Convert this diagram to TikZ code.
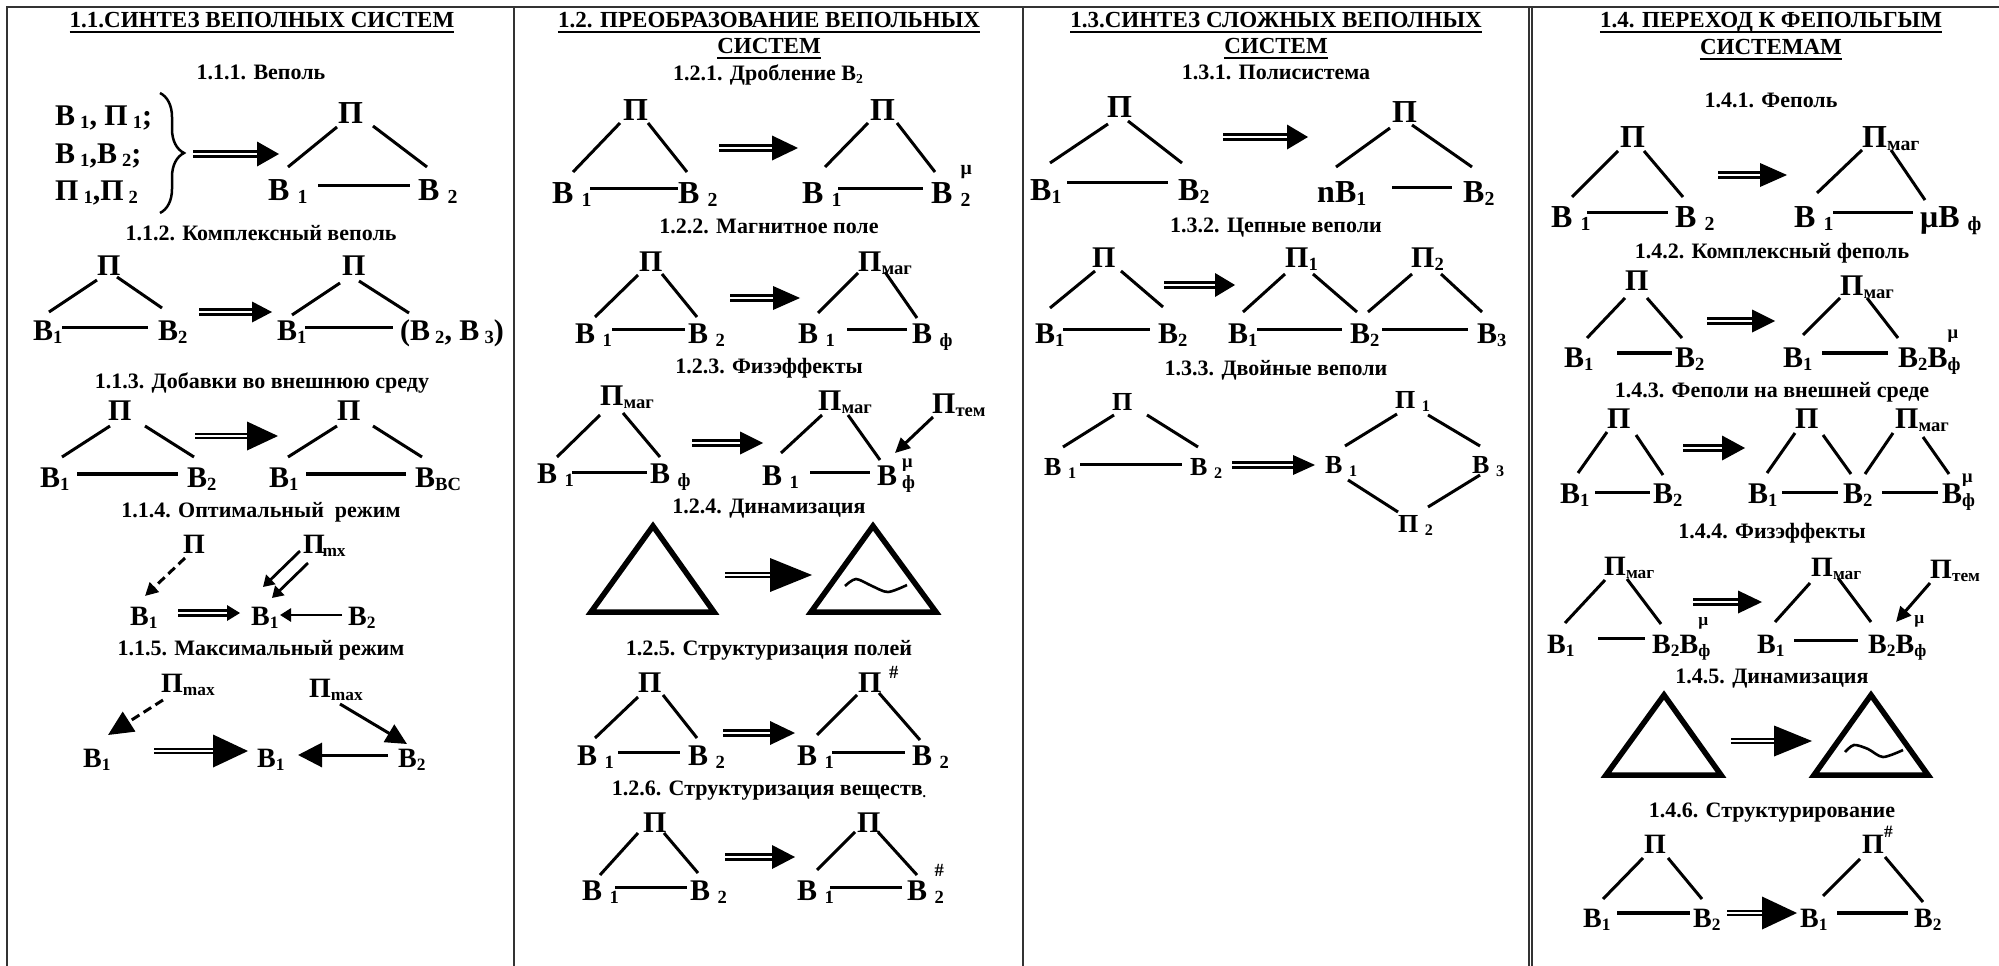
\documentclass[tikz,border=0pt]{standalone}
\usepackage{fontspec}
\setmainfont{Liberation Serif}
\usetikzlibrary{arrows.meta,decorations.pathreplacing}

% sub- and superscripts of the labels
\newcommand\lo[1]{\raisebox{-0.12em}{\scalebox{0.62}{#1}}}
\newcommand\hi[2][0.5em]{\raisebox{#1}{\scalebox{0.62}{#2}}}
% connection point: a label's base-west point, shifted
\newcommand\ancp[3]{([shift={(#2,#3)}]#1.base west)}
% transition arrow: [shaft style]{name}{x start}{x tip}{y}{head length}{head half width}
\newcommand\impl[7][boldshaft]{%
  \coordinate (#2-s) at (#3,#5);
  \coordinate (#2-e) at (#4,#5);
  \draw[#1] (#2-s) -- ([shift={(-#6+1,0)}]#2-e);
  \fill ([shift={(-#6,-#7)}]#2-e) -- (#2-e) -- ([shift={(-#6,#7)}]#2-e) -- cycle;
}

\begin{document}
\begin{tikzpicture}[x=1pt, y=-1pt,
  ttl/.style={font=\fontsize{23}{23}\selectfont\bfseries, inner sep=0pt, anchor=base},
  sttl/.style={font=\fontsize{22}{22}\selectfont\bfseries, inner sep=0pt, anchor=base},
  lbA/.style={font=\fontsize{32}{32}\selectfont\bfseries, inner sep=0pt, anchor=base west},
  lbB/.style={font=\fontsize{30}{30}\selectfont\bfseries, inner sep=0pt, anchor=base west},
  lbC/.style={font=\fontsize{28}{28}\selectfont\bfseries, inner sep=0pt, anchor=base west},
  lbD/.style={font=\fontsize{26}{26}\selectfont\bfseries, inner sep=0pt, anchor=base west},
  conn/.style={line width=3pt},
  tconn/.style={line width=4.2pt},
  uline/.style={line width=2.5pt},
  gridline/.style={line width=2pt, black!80},
  boldshaft/.style={double, double distance=2pt, line width=3pt},
  thinshaft/.style={double, double distance=2.5pt, line width=1.5pt},
  bigtri/.style={line width=5.5pt, line join=miter},
  wave/.style={line width=2.6pt},
  sarrow/.style={line width=2.8pt, -{Triangle[length=11pt,width=13pt]}},
  sarrowm/.style={line width=3pt, -{Triangle[length=15pt,width=14pt]}},
  dasharrow/.style={line width=3pt, dash pattern=on 9pt off 5pt}
]
\useasboundingbox (0,0) rectangle (1999,966);

% ---------- table frame ----------
\draw[gridline] (7,966) -- (7,7) -- (1999,7);
\draw[gridline] (514,7) -- (514,966);
\draw[gridline] (1022.5,7) -- (1022.5,966);
\draw[gridline] (1528.5,7) -- (1528.5,966);
\draw[gridline] (1532,7) -- (1532,966);

% ================= 1.1 =================
\node[ttl] (t1) at (262,28) {1.1.СИНТЕЗ ВЕПОЛНЫХ СИСТЕМ};
\draw[uline] ([shift={(0,4)}]t1.base west) -- ([shift={(0,4)}]t1.base east);

% 1.1.1
\node[sttl] (s111) at (261,80) {1.1.1. Веполь};
\node[lbB] (g1) at (55,125) {В\,\lo{1}, П\,\lo{1};};
\node[lbB] (g2) at (55,163) {В\,\lo{1},В\,\lo{2};};
\node[lbB] (g3) at (55,200) {П\,\lo{1},П\,\lo{2}};
\draw[line width=2.5pt, decorate, decoration={brace, amplitude=24pt}] (160,93) -- (160,213);
\impl{r111}{193}{279}{154}{22}{12.5}
\node[lbA] (aP) at (338,123) {П};
\node[lbA] (aB1) at (268,200) {В \lo{1}};
\node[lbA] (aB2) at (418,200) {В \lo{2}};
\draw[conn] \ancp{aB1}{20}{-33} -- \ancp{aP}{-1}{4};
\draw[conn] \ancp{aP}{35}{3} -- \ancp{aB2}{9}{-33};
\draw[conn] \ancp{aB1}{50}{-15} -- \ancp{aB2}{-8}{-15};

% 1.1.2
\node[sttl] (s112) at (261,240) {1.1.2. Комплексный веполь};
\node[lbB] (bP) at (97,275) {П};
\node[lbB] (bB1) at (33,340) {В\lo{1}};
\node[lbB] (bB2) at (158,340) {В\lo{2}};
\draw[conn] \ancp{bB1}{16}{-28} -- \ancp{bP}{0}{5};
\draw[conn] \ancp{bP}{20}{2} -- \ancp{bB2}{4}{-32};
\draw[conn] \ancp{bB1}{29}{-13} -- \ancp{bB2}{-10}{-13};
\impl{r112}{199}{272}{312}{20}{10.5}
\node[lbB] (cP) at (342,275) {П};
\node[lbB] (cB1) at (277,340) {В\lo{1}};
\node[lbB] (cB2) at (400,340) {(В\,\lo{2}, В\,\lo{3})};
\draw[conn] \ancp{cB1}{15}{-25} -- \ancp{cP}{-2}{8};
\draw[conn] \ancp{cP}{17}{6} -- \ancp{cB2}{9}{-27};
\draw[conn] \ancp{cB1}{28}{-13} -- \ancp{cB2}{-7}{-13};

% 1.1.3
\node[sttl] (s113) at (262,388) {1.1.3. Добавки во внешнюю среду};
\node[lbB] (dP) at (108,420) {П};
\node[lbB] (dB1) at (40,487) {В\lo{1}};
\node[lbB] (dB2) at (187,487) {В\lo{2}};
\draw[conn] \ancp{dB1}{22}{-30} -- \ancp{dP}{2}{6};
\draw[conn] \ancp{dP}{37}{6} -- \ancp{dB2}{7}{-30};
\draw[tconn] \ancp{dB1}{37}{-13} -- \ancp{dB2}{-9}{-13};
\impl[thinshaft]{r113}{195}{278}{436}{31}{14.5}
\node[lbB] (eP) at (337,420) {П};
\node[lbB] (eB1) at (269,487) {В\lo{1}};
\node[lbB] (eB2) at (415,487) {В\lo{ВС}};
\draw[conn] \ancp{eB1}{19}{-30} -- \ancp{eP}{0}{6};
\draw[conn] \ancp{eP}{36}{6} -- \ancp{eB2}{7}{-30};
\draw[tconn] \ancp{eB1}{37}{-13} -- \ancp{eB2}{-9}{-13};

% 1.1.4
\node[sttl] (s114) at (261,517) {1.1.4. Оптимальный\ \ режим};
\node[lbC] (fP) at (183,553) {П};
\node[lbC] (fB1) at (130,625) {В\lo{1}};
\node[lbC] (fB1b) at (251,625) {В\lo{1}};
\node[lbC] (fB2) at (348,625) {В\lo{2}};
\node[lbC] (fPm) at (303,553) {П\lo{\kern-4pt mx}};
\draw[dasharrow, -{Triangle[length=13pt,width=13pt]}] \ancp{fP}{2}{5} -- \ancp{fB1}{15}{-29};
\impl{r114}{178}{240}{613}{13}{8}
\draw[sarrow] \ancp{fB2}{-6}{-10} -- \ancp{fB1b}{29}{-10};
\draw[sarrow] \ancp{fPm}{-3}{-2} -- \ancp{fB1b}{12}{-38};
\draw[sarrow] \ancp{fPm}{5}{10} -- \ancp{fB1b}{21}{-27};

% 1.1.5
\node[sttl] (s115) at (261,655) {1.1.5. Максимальный режим};
\node[lbC] (gP1) at (161,692) {П\lo{max}};
\node[lbC] (gP2) at (309,697) {П\lo{max}};
\node[lbC] (gB1) at (83,767) {В\lo{1}};
\node[lbC] (gB1b) at (257,767) {В\lo{1}};
\node[lbC] (gB2) at (398,767) {В\lo{2}};
\draw[dasharrow, -{Triangle[length=25pt,width=23pt]}] \ancp{gP1}{2}{8} -- \ancp{gB1}{25}{-32};
\impl[thinshaft]{r115}{154}{248}{751}{35}{16.5}
\draw[conn, -{Triangle[length=24pt,width=24pt]}] \ancp{gB2}{-10}{-12} -- \ancp{gB1b}{41}{-12};
\draw[conn, -{Triangle[length=21pt,width=20pt]}] \ancp{gP2}{31}{7} -- \ancp{gB2}{9}{-23};

% ================= 1.2 =================
\node[ttl] (t2a) at (769,28) {1.2. ПРЕОБРАЗОВАНИЕ ВЕПОЛЬНЫХ};
\node[ttl] (t2b) at (769,54) {СИСТЕМ};
\draw[uline] ([shift={(0,4)}]t2a.base west) -- ([shift={(0,4)}]t2a.base east);
\draw[uline] ([shift={(0,4)}]t2b.base west) -- ([shift={(0,4)}]t2b.base east);

% 1.2.1
\node[sttl] (s121) at (768,81) {1.2.1. Дробление В\lo{2}};
\node[lbA] (hP) at (623,120) {П};
\node[lbA] (hB1) at (552,203) {В \lo{1}};
\node[lbA] (hB2) at (678,203) {В \lo{2}};
\draw[conn] \ancp{hB1}{21}{-31} -- \ancp{hP}{-3}{3};
\draw[conn] \ancp{hP}{25}{3} -- \ancp{hB2}{9}{-31};
\draw[conn] \ancp{hB1}{38}{-15} -- \ancp{hB2}{0}{-15};
\impl{r121}{719}{798}{148}{26}{12.5}
\node[lbA] (iP) at (870,120) {П};
\node[lbA] (iB1) at (802,203) {В \lo{1}};
\node[lbA] (iB2) at (931,203) {В \rlap{\hi[0.9em]{μ}}\lo{2}};
\draw[conn] \ancp{iB1}{23}{-36} -- \ancp{iP}{-2}{3};
\draw[conn] \ancp{iP}{27}{3} -- \ancp{iB2}{4}{-31};
\draw[conn] \ancp{iB1}{36}{-15} -- \ancp{iB2}{-8}{-15};

% 1.2.2
\node[sttl] (s122) at (769,233) {1.2.2. Магнитное поле};
\node[lbB] (jP) at (639,271) {П};
\node[lbB] (jB1) at (575,343) {В \lo{1}};
\node[lbB] (jB2) at (688,343) {В \lo{2}};
\draw[conn] \ancp{jB1}{20}{-26} -- \ancp{jP}{-1}{4};
\draw[conn] \ancp{jP}{23}{3} -- \ancp{jB2}{9}{-26};
\draw[conn] \ancp{jB1}{37}{-14} -- \ancp{jB2}{-3}{-14};
\impl{r122}{730}{800}{298}{27}{12}
\node[lbB] (kP) at (858,271) {П\lo{маг}};
\node[lbB] (kB1) at (798,343) {В \lo{1}};
\node[lbB] (kB2) at (912,343) {В \lo{ф}};
\draw[conn] \ancp{kB1}{20}{-30} -- \ancp{kP}{0}{2};
\draw[conn] \ancp{kP}{27}{1} -- \ancp{kB2}{5}{-25};
\draw[conn] \ancp{kB1}{49}{-14} -- \ancp{kB2}{-5}{-14};

% 1.2.3
\node[sttl] (s123) at (769,373) {1.2.3. Физэффекты};
\node[lbB] (lP) at (600,405) {П\lo{маг}};
\node[lbB] (lB1) at (537,483) {В \lo{1}};
\node[lbB] (lB2) at (650,483) {В \lo{ф}};
\draw[conn] \ancp{lB1}{20}{-26} -- \ancp{lP}{0}{10};
\draw[conn] \ancp{lP}{23}{8} -- \ancp{lB2}{10}{-26};
\draw[conn] \ancp{lB1}{35}{-11} -- \ancp{lB2}{-3}{-11};
\impl{r123}{692}{763}{443}{23}{11.5}
\node[lbB] (mP) at (818,410) {П\lo{маг}};
\node[lbB] (mB1) at (762,485) {В \lo{1}};
\node[lbB] (mB2) at (877,485) {В\,\rlap{\hi[0.6em]{μ}}\lo{ф}};
\node[lbB] (mPt) at (932,413) {П\lo{тем}};
\draw[conn] \ancp{mB1}{19}{-32} -- \ancp{mP}{4}{5};
\draw[conn] \ancp{mP}{30}{5} -- \ancp{mB2}{3}{-25};
\draw[conn] \ancp{mB1}{48}{-13} -- \ancp{mB2}{-7}{-13};
\draw[sarrowm] \ancp{mPt}{1}{4} -- \ancp{mB2}{18}{-32};

% 1.2.4
\node[sttl] (s124) at (769,513) {1.2.4. Динамизация};
\draw[bigtri] (653,526) -- (714,612) -- (591,612) -- cycle;
\impl[thinshaft]{r124}{725}{812}{575}{42}{17}
\draw[bigtri] (873,526) -- (936,612) -- (811,612) -- cycle;
\draw[wave] plot[smooth] coordinates {(845,586) (856,579) (872,586) (888,592) (907,585)};

% 1.2.5
\node[sttl] (s125) at (769,655) {1.2.5. Структуризация полей};
\node[lbB] (nP) at (638,692) {П};
\node[lbB] (nB1) at (577,765) {В \lo{1}};
\node[lbB] (nB2) at (688,765) {В \lo{2}};
\draw[conn] \ancp{nB1}{18}{-27} -- \ancp{nP}{0}{5};
\draw[conn] \ancp{nP}{25}{3} -- \ancp{nB2}{9}{-27};
\draw[conn] \ancp{nB1}{41}{-13} -- \ancp{nB2}{-8}{-13};
\impl{r125}{723}{795}{733}{25}{12}
\node[lbB] (oP) at (858,692) {П \hi[0.45em]{\#}};
\node[lbB] (oB1) at (797,765) {В \lo{1}};
\node[lbB] (oB2) at (912,765) {В \lo{2}};
\draw[conn] \ancp{oB1}{20}{-30} -- \ancp{oP}{-1}{3};
\draw[conn] \ancp{oP}{21}{1} -- \ancp{oB2}{8}{-25};
\draw[conn] \ancp{oB1}{35}{-13} -- \ancp{oB2}{-7}{-13};

% 1.2.6
\node[sttl] (s126) at (769,795) {1.2.6. Структуризация веществ\lo{.}};
\node[lbB] (qP) at (643,832) {П};
\node[lbB] (qB1) at (582,900) {В \lo{1}};
\node[lbB] (qB2) at (690,900) {В \lo{2}};
\draw[conn] \ancp{qB1}{18}{-25} -- \ancp{qP}{-5}{1};
\draw[conn] \ancp{qP}{21}{1} -- \ancp{qB2}{8}{-27};
\draw[conn] \ancp{qB1}{33}{-13} -- \ancp{qB2}{-3}{-13};
\impl{r126}{725}{795}{857}{23}{12}
\node[lbB] (uP) at (857,832) {П};
\node[lbB] (uB1) at (797,900) {В \lo{1}};
\node[lbB] (uB2) at (907,900) {В \rlap{\hi[0.8em]{\#}}\lo{2}};
\draw[conn] \ancp{uB1}{20}{-30} -- \ancp{uP}{-2}{0};
\draw[conn] \ancp{uP}{21}{0} -- \ancp{uB2}{10}{-25};
\draw[conn] \ancp{uB1}{33}{-13} -- \ancp{uB2}{-5}{-13};

% ================= 1.3 =================
\node[ttl] (t3a) at (1276,28) {1.3.СИНТЕЗ СЛОЖНЫХ ВЕПОЛНЫХ};
\node[ttl] (t3b) at (1276,54) {СИСТЕМ};
\draw[uline] ([shift={(0,4)}]t3a.base west) -- ([shift={(0,4)}]t3a.base east);
\draw[uline] ([shift={(0,4)}]t3b.base west) -- ([shift={(0,4)}]t3b.base east);

% 1.3.1
\node[sttl] (s131) at (1276,80) {1.3.1. Полисистема};
\node[lbA] (vP) at (1107,117) {П};
\node[lbA] (vB1) at (1030,200) {В\lo{1}};
\node[lbA] (vB2) at (1178,200) {В\lo{2}};
\draw[conn] \ancp{vB1}{20}{-37} -- \ancp{vP}{1}{7};
\draw[conn] \ancp{vP}{21}{4} -- \ancp{vB2}{4}{-37};
\draw[conn] \ancp{vB1}{37}{-18} -- \ancp{vB2}{-10}{-18};
\impl{r131}{1223}{1308}{137}{21}{12.5}
\node[lbA] (wP) at (1392,122) {П};
\node[lbA] (wB1) at (1317,202) {nВ\lo{1}};
\node[lbA] (wB2) at (1463,202) {В\lo{2}};
\draw[conn] \ancp{wB1}{19}{-35} -- \ancp{wP}{-2}{6};
\draw[conn] \ancp{wP}{20}{3} -- \ancp{wB2}{9}{-35};
\draw[conn] \ancp{wB1}{75}{-15} -- \ancp{wB2}{-11}{-15};

% 1.3.2
\node[sttl] (s132) at (1276,232) {1.3.2. Цепные веполи};
\node[lbB] (xP) at (1092,267) {П};
\node[lbB] (xB1) at (1035,343) {В\lo{1}};
\node[lbB] (xB2) at (1158,343) {В\lo{2}};
\draw[conn] \ancp{xB1}{15}{-35} -- \ancp{xP}{3}{4};
\draw[conn] \ancp{xP}{29}{4} -- \ancp{xB2}{5}{-36};
\draw[conn] \ancp{xB1}{28}{-14} -- \ancp{xB2}{-8}{-14};
\impl{r132}{1164}{1235}{285}{20}{12}
\node[lbB] (yP1) at (1285,267) {П\lo{1}};
\node[lbB] (yP2) at (1411,267) {П\lo{2}};
\node[lbB] (yB1) at (1228,343) {В\lo{1}};
\node[lbB] (yB2) at (1350,343) {В\lo{2}};
\node[lbB] (yB3) at (1477,343) {В\lo{3}};
\draw[conn] \ancp{yB1}{15}{-31} -- \ancp{yP1}{0}{7};
\draw[conn] \ancp{yP1}{28}{7} -- \ancp{yB2}{7}{-31};
\draw[conn] \ancp{yB2}{18}{-31} -- \ancp{yP2}{1}{7};
\draw[conn] \ancp{yP2}{30}{7} -- \ancp{yB3}{5}{-31};
\draw[conn] \ancp{yB1}{29}{-14} -- \ancp{yB2}{-8}{-14};
\draw[conn] \ancp{yB2}{32}{-14} -- \ancp{yB3}{-9}{-14};

% 1.3.3
\node[sttl] (s133) at (1276,375) {1.3.3. Двойные веполи};
\node[lbD] (zP) at (1112,410) {П};
\node[lbD] (zB1) at (1044,475) {В \lo{1}};
\node[lbD] (zB2) at (1190,475) {В \lo{2}};
\draw[conn] \ancp{zB1}{19}{-28} -- \ancp{zP}{2}{5};
\draw[conn] \ancp{zP}{35}{5} -- \ancp{zB2}{8}{-28};
\draw[conn] \ancp{zB1}{36}{-11} -- \ancp{zB2}{-8}{-11};
\impl{r133}{1232}{1315}{465}{22}{10}
\node[lbD] (ddP1) at (1395,408) {П \lo{1}};
\node[lbD] (ddB1) at (1325,473) {В \lo{1}};
\node[lbD] (ddB3) at (1472,473) {В \lo{3}};
\node[lbD] (ddP2) at (1398,532) {П \lo{2}};
\draw[conn] \ancp{ddB1}{20}{-27} -- \ancp{ddP1}{2}{6};
\draw[conn] \ancp{ddP1}{33}{7} -- \ancp{ddB3}{8}{-27};
\draw[conn] \ancp{ddB1}{23}{7} -- \ancp{ddP2}{0}{-20};
\draw[conn] \ancp{ddP2}{30}{-25} -- \ancp{ddB3}{8}{2};

% ================= 1.4 =================
\node[ttl] (t4a) at (1771,28) {1.4. ПЕРЕХОД К ФЕПОЛЬГЫМ};
\node[ttl] (t4b) at (1771,55) {СИСТЕМАМ};
\draw[uline] ([shift={(0,4)}]t4a.base west) -- ([shift={(0,4)}]t4a.base east);
\draw[uline] ([shift={(0,4)}]t4b.base west) -- ([shift={(0,4)}]t4b.base east);

% 1.4.1
\node[sttl] (s141) at (1771,107) {1.4.1. Феполь};
\node[lbA] (aaP) at (1620,147) {П};
\node[lbA] (aaB1) at (1551,227) {В \lo{1}};
\node[lbA] (aaB2) at (1675,227) {В \lo{2}};
\draw[conn] \ancp{aaB1}{21}{-30} -- \ancp{aaP}{-2}{4};
\draw[conn] \ancp{aaP}{24}{4} -- \ancp{aaB2}{8}{-30};
\draw[conn] \ancp{aaB1}{36}{-15} -- \ancp{aaB2}{-7}{-15};
\impl{r141}{1718}{1787}{175}{27}{12}
\node[lbA] (bbP) at (1862,147) {П\lo{маг}};
\node[lbA] (bbB1) at (1794,227) {В \lo{1}};
\node[lbA] (bbB2) at (1920,227) {μВ \lo{ф}};
\draw[conn] \ancp{bbB1}{23}{-34} -- \ancp{bbP}{0}{3};
\draw[conn] \ancp{bbP}{29}{3} -- \ancp{bbB2}{5}{-27};
\draw[conn] \ancp{bbB1}{39}{-15} -- \ancp{bbB2}{-7}{-15};

% 1.4.2
\node[sttl] (s142) at (1772,258) {1.4.2. Комплексный феполь};
\node[lbB] (ccP) at (1625,290) {П};
\node[lbB] (ccB1) at (1564,367) {В\lo{1}};
\node[lbB] (ccB2) at (1675,367) {В\lo{2}};
\draw[conn] \ancp{ccB1}{23}{-29} -- \ancp{ccP}{0}{8};
\draw[conn] \ancp{ccP}{22}{8} -- \ancp{ccB2}{7}{-29};
\draw[tconn] \ancp{ccB1}{53}{-14} -- \ancp{ccB2}{-3}{-14};
\impl{r142}{1707}{1775}{321}{23}{11.5}
\node[lbB] (eeP) at (1840,295) {П\lo{маг}};
\node[lbB] (eeB1) at (1783,367) {В\lo{1}};
\node[lbB] (eeB2) at (1898,367) {В\lo{2}В\rlap{\hi[0.95em]{μ}}\lo{ф}};
\draw[conn] \ancp{eeB1}{20}{-32} -- \ancp{eeP}{0}{3};
\draw[conn] \ancp{eeP}{27}{3} -- \ancp{eeB2}{0}{-29};
\draw[tconn] \ancp{eeB1}{39}{-14} -- \ancp{eeB2}{-10}{-14};

% 1.4.3
\node[sttl] (s143) at (1772,397) {1.4.3. Феполи на внешней среде};
\node[lbB] (ffP) at (1607,428) {П};
\node[lbB] (ffB1) at (1560,503) {В\lo{1}};
\node[lbB] (ffB2) at (1653,503) {В\lo{2}};
\draw[conn] \ancp{ffB1}{18}{-30} -- \ancp{ffP}{0}{4};
\draw[conn] \ancp{ffP}{29}{7} -- \ancp{ffB2}{10}{-28};
\draw[conn] \ancp{ffB1}{35}{-11} -- \ancp{ffB2}{-3}{-11};
\impl{r143}{1683}{1745}{448}{23}{12.5}
\node[lbB] (ggP1) at (1795,428) {П};
\node[lbB] (ggP2) at (1895,428) {П\lo{маг}};
\node[lbB] (ggB1) at (1748,503) {В\lo{1}};
\node[lbB] (ggB2) at (1843,503) {В\lo{2}};
\node[lbB] (ggB3) at (1942,503) {В\rlap{\hi[0.67em]{μ}}\lo{ф}};
\draw[conn] \ancp{ggB1}{19}{-30} -- \ancp{ggP1}{0}{5};
\draw[conn] \ancp{ggP1}{28}{7} -- \ancp{ggB2}{8}{-29};
\draw[conn] \ancp{ggB2}{22}{-29} -- \ancp{ggP2}{-2}{5};
\draw[conn] \ancp{ggP2}{28}{9} -- \ancp{ggB3}{7}{-29};
\draw[conn] \ancp{ggB1}{34}{-11} -- \ancp{ggB2}{-5}{-11};
\draw[conn] \ancp{ggB2}{39}{-11} -- \ancp{ggB3}{-4}{-11};

% 1.4.4
\node[sttl] (s144) at (1772,538) {1.4.4. Физэффекты};
\node[lbC] (hhP) at (1604,575) {П\lo{маг}};
\node[lbC] (hhB1) at (1547,653) {В\lo{1}};
\node[lbC] (hhB2) at (1652,653) {В\lo{2}В\rlap{\hi[1.0em]{μ}}\lo{ф}};
\draw[conn] \ancp{hhB1}{18}{-30} -- \ancp{hhP}{1}{5};
\draw[conn] \ancp{hhP}{23}{4} -- \ancp{hhB2}{9}{-29};
\draw[conn] \ancp{hhB1}{51}{-15} -- \ancp{hhB2}{-7}{-15};
\impl{r144}{1693}{1762}{602}{24}{11.5}
\node[lbC] (iiP) at (1811,576) {П\lo{маг}};
\node[lbC] (iiB1) at (1757,653) {В\lo{1}};
\node[lbC] (iiB2) at (1868,653) {В\lo{2}В\rlap{\hi[1.05em]{μ}}\lo{ф}};
\node[lbC] (iiPt) at (1930,578) {П\lo{тем}};
\draw[conn] \ancp{iiB1}{18}{-31} -- \ancp{iiP}{-1}{7};
\draw[conn] \ancp{iiP}{27}{2} -- \ancp{iiB2}{3}{-31};
\draw[conn] \ancp{iiB1}{37}{-13} -- \ancp{iiB2}{-10}{-13};
\draw[sarrowm] \ancp{iiPt}{0}{5} -- \ancp{iiB2}{28}{-31};

% 1.4.5
\node[sttl] (s145) at (1772,683) {1.4.5. Динамизация};
\draw[bigtri] (1664,695) -- (1721,775) -- (1606,775) -- cycle;
\impl[thinshaft]{r145}{1731}{1812}{741}{38}{15.5}
\draw[bigtri] (1871,695) -- (1928,775) -- (1814,775) -- cycle;
\draw[wave] plot[smooth] coordinates {(1845,752) (1854,745) (1868,749) (1883,757) (1903,750)};

% 1.4.6
\node[sttl] (s146) at (1772,817) {1.4.6. Структурирование};
\node[lbC] (jjP) at (1644,853) {П};
\node[lbC] (jjB1) at (1583,927) {В\lo{1}};
\node[lbC] (jjB2) at (1693,927) {В\lo{2}};
\draw[conn] \ancp{jjB1}{20}{-28} -- \ancp{jjP}{-1}{5};
\draw[conn] \ancp{jjP}{24}{5} -- \ancp{jjB2}{9}{-28};
\draw[tconn] \ancp{jjB1}{34}{-14} -- \ancp{jjB2}{-3}{-14};
\impl[thinshaft]{r146}{1727}{1797}{913}{35}{16.5}
\node[lbC] (kkP) at (1862,853) {П\hi[0.55em]{\#}};
\node[lbC] (kkB1) at (1800,927) {В\lo{1}};
\node[lbC] (kkB2) at (1914,927) {В\lo{2}};
\draw[conn] \ancp{kkB1}{23}{-31} -- \ancp{kkP}{-2}{6};
\draw[conn] \ancp{kkP}{23}{4} -- \ancp{kkB2}{9}{-25};
\draw[tconn] \ancp{kkB1}{37}{-14} -- \ancp{kkB2}{-6}{-14};
\end{tikzpicture}
\end{document}
